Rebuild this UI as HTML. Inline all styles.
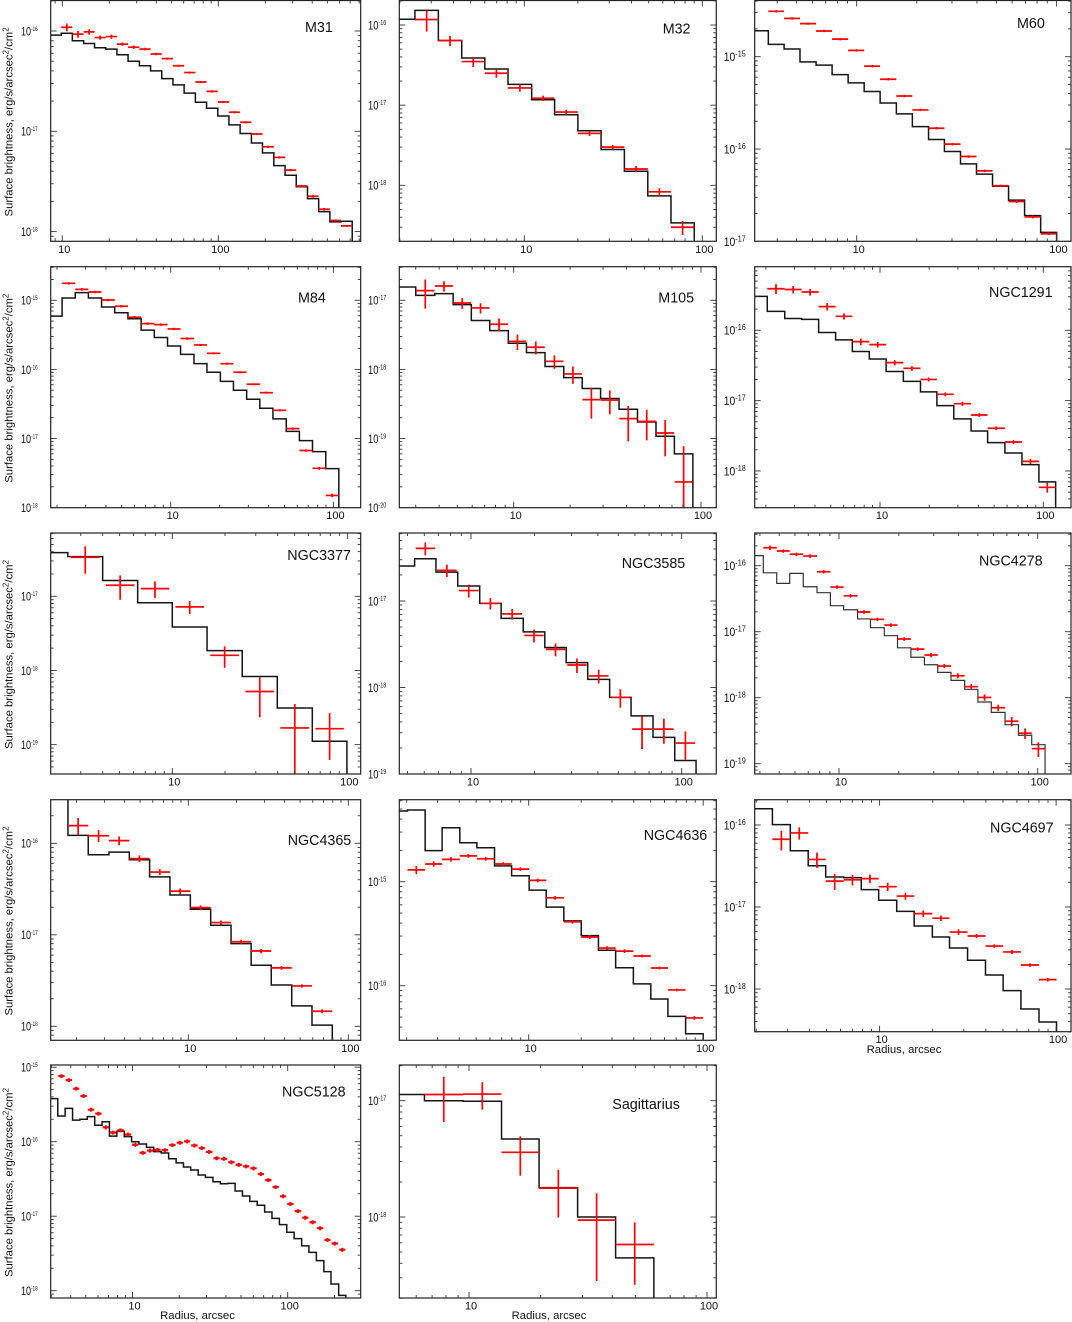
<!DOCTYPE html>
<html lang="en">
<head>
<meta charset="utf-8">
<title>Surface brightness profiles</title>
<style>
  html, body { margin: 0; padding: 0; background: #fff; }
  svg { display: block; font-family: "Liberation Sans", sans-serif; }
</style>
</head>
<body>
<svg id="figure" xmlns="http://www.w3.org/2000/svg" width="1072" height="1322" viewBox="0 0 1072 1322"></svg>
<script>
const xTickValues = [10, 100];

const m31Radius = [8.3,9.85,11.6,13.7,16.1,19.0,22.4,26.4,31.2,36.8,43.4,51.2,60.4,71.3,84.1,99.3,117,138,163,192,227,268,316,373,440,519,612,722];
const m31Model = [9.1e-17,9.5e-17,8.0e-17,7.5e-17,6.8e-17,6.6e-17,5.8e-17,5.0e-17,4.5e-17,4.0e-17,3.35e-17,2.9e-17,2.4e-17,1.95e-17,1.7e-17,1.42e-17,1.16e-17,9.5e-18,7.65e-18,6.1e-18,4.55e-18,3.65e-18,2.8e-18,2.13e-18,1.58e-18,1.25e-18,1.27e-18];
const m31Observed = [null,1.09e-16,9.3e-17,9.8e-17,8.6e-17,8.8e-17,7.4e-17,6.9e-17,6.6e-17,5.9e-17,5.3e-17,4.5e-17,3.85e-17,3.1e-17,2.5e-17,1.96e-17,1.55e-17,1.23e-17,9.4e-18,7.0e-18,5.5e-18,4.1e-18,2.85e-18,2.25e-18,1.67e-18,1.29e-18,1.14e-18];
const m31RelError = [null,.09,.076,.06,.046,.046,.038,.038,.03,.03,.025,.025,.025,.025,.025,.025,.025,.025,.025,.025,.025,.025,.025,.03,.03,.025,.025];
const m31YExps = [-16,-17,-18];

const m32Radius = [1.9,2.43,3.29,4.45,6.0,8.1,11.0,14.8,20.0,27.0,36.5,49.4,66.7,90.1];
const m32Model = [1.18e-16,1.52e-16,6.4e-17,3.87e-17,2.83e-17,1.82e-17,1.17e-17,7.6e-18,4.8e-18,2.8e-18,1.5e-18,7.4e-19,3.4e-19];
const m32Observed = [null,1.17e-16,6.4e-17,3.5e-17,2.5e-17,1.64e-17,1.22e-17,8.2e-18,4.45e-18,3.0e-18,1.6e-18,8.3e-19,3.0e-19];
const m32RelError = [null,.29,.145,.145,.12,.105,.08,.07,.07,.065,.085,.11,.2];
const m32YExps = [-16,-17,-18];

const m60Radius = [3.0,3.61,4.33,5.2,6.26,7.53,9.06,10.9,13.1,15.8,19.0,22.9,27.5,33.1,39.8,47.9,57.6,69.3,83.4,100.3];
const m60Model = [1.91e-15,1.36e-15,1.21e-15,8.8e-16,8.1e-16,6.4e-16,5.2e-16,4.2e-16,3.15e-16,2.4e-16,1.75e-16,1.27e-16,9.4e-17,6.9e-17,5.35e-17,3.95e-17,2.8e-17,1.9e-17,1.25e-17];
const m60Observed = [null,3.1e-15,2.6e-15,2.28e-15,1.9e-15,1.55e-15,1.17e-15,7.9e-16,5.7e-16,3.75e-16,2.65e-16,1.68e-16,1.13e-16,8.3e-17,5.8e-17,4.0e-17,2.7e-17,1.84e-17,1.21e-17];
const m60RelError = [null,.03,.03,.03,.03,.03,.03,.03,.03,.03,.03,.03,.03,.03,.03,.03,.035,.035,.035];
const m60YExps = [-15,-16,-17];

const m84Radius = [1.75,2.15,2.59,3.12,3.76,4.53,5.46,6.58,7.93,9.56,11.5,13.9,16.7,20.2,24.3,29.3,35.3,42.5,51.3,61.8,74.4,89.7,108];
const m84Model = [5.9e-16,1.08e-15,1.29e-15,1.08e-15,8.0e-16,6.6e-16,5.4e-16,3.7e-16,2.9e-16,2.18e-16,1.65e-16,1.21e-16,9.1e-17,6.7e-17,5.0e-17,3.7e-17,2.74e-17,1.92e-17,1.27e-17,9.3e-18,6.45e-18,3.67e-18];
const m84Observed = [null,1.76e-15,1.44e-15,1.32e-15,1.01e-15,8.2e-16,5.7e-16,4.6e-16,4.45e-16,3.85e-16,2.8e-16,2.26e-16,1.71e-16,1.21e-16,9.1e-17,6.1e-17,4.6e-17,2.56e-17,1.39e-17,6.7e-18,3.7e-18,1.5e-18];
const m84RelError = [null,.04,.04,.04,.04,.04,.04,.04,.04,.04,.04,.035,.035,.035,.035,.035,.035,.035,.04,.04,.045,.06];
const m84YExps = [-15,-16,-17,-18];

const m105Radius = [2.4,3.0,3.79,4.75,5.94,7.45,9.36,11.7,14.7,18.5,23.2,29.1,36.5,45.8,57.5,72.1,90.5];
const m105Model = [1.56e-17,1.18e-17,1.25e-17,8.65e-18,5.1e-18,3.64e-18,2.39e-18,1.75e-18,1.1e-18,7.6e-19,5.3e-19,3.8e-19,2.65e-19,1.73e-19,1.08e-19,6.0e-20];
const m105Observed = [null,1.38e-17,1.61e-17,9.15e-18,7.75e-18,4.5e-18,2.55e-18,2.09e-18,1.31e-18,8.6e-19,3.65e-19,3.6e-19,1.94e-19,1.77e-19,1.2e-19,2.35e-20];
const m105RelError = [null,.45,.17,.18,.17,.21,.25,.21,.22,.28,.47,.38,.53,.47,.54,2.28];
const m105YExps = [-17,-18,-19,-20];

const ngc1291Radius = [1.6,2.04,2.61,3.31,4.21,5.35,6.77,8.6,10.9,13.9,17.7,22.3,28.3,36.1,45.6,58.2,74,94,119];
const ngc1291Model = [3.04e-16,1.86e-16,1.47e-16,1.43e-16,9.3e-17,7.3e-17,5.0e-17,3.9e-17,2.6e-17,1.88e-17,1.33e-17,8.5e-18,5.5e-18,3.7e-18,2.53e-18,1.8e-18,1.23e-18,7.0e-19];
const ngc1291Observed = [null,3.9e-16,3.8e-16,3.5e-16,2.17e-16,1.58e-16,6.9e-17,6.25e-17,3.47e-17,2.88e-17,2.0e-17,1.23e-17,9.05e-18,6.25e-18,4.05e-18,2.58e-18,1.37e-18,5.85e-19];
const ngc1291RelError = [null,.16,.12,.11,.12,.1,.11,.09,.085,.075,.065,.065,.065,.06,.06,.065,.085,.16];
const ngc1291YExps = [-16,-17,-18];

const ngc3377Radius = [1.95,2.53,4.0,6.34,10.0,15.8,25.1,39.8,63.1,99.5];
const ngc3377Model = [3.88e-17,3.43e-17,1.63e-17,8.2e-18,3.86e-18,1.85e-18,8.3e-19,3.12e-19,1.11e-19];
const ngc3377Observed = [null,3.36e-17,1.41e-17,1.27e-17,7.2e-18,1.6e-18,5.2e-19,1.68e-19,1.64e-19];
const ngc3377RelError = [null,.4,.36,.25,.2,.32,.55,1.1,.62];
const ngc3377YExps = [-17,-18,-19];

const ngc3585Radius = [4.4,5.4,6.82,8.65,11.0,13.9,17.7,22.4,28.3,35.8,45.5,57.5,73.1,92.7,117];
const ngc3585Model = [2.54e-17,3.08e-17,2.16e-17,1.49e-17,9.4e-18,6.3e-18,4.4e-18,2.9e-18,1.94e-18,1.24e-18,7.7e-19,4.7e-19,2.65e-19,1.43e-19];
const ngc3585Observed = [null,4.06e-17,2.26e-17,1.32e-17,9.4e-18,7.1e-18,4.0e-18,2.76e-18,1.82e-18,1.36e-18,7.7e-19,3.3e-19,3.3e-19,2.28e-19];
const ngc3585RelError = [null,.17,.165,.17,.15,.14,.17,.17,.19,.18,.24,.41,.32,.36];
const ngc3585YExps = [-17,-18,-19];

const ngc4278Radius = [3.6,4.16,4.86,5.65,6.61,7.75,9.05,10.55,12.4,14.4,16.9,19.7,23.0,26.9,31.4,36.6,42.9,50,58.4,68.5,80,93.3,108.9];
const ngc4278Model = [1.42e-16,7.8e-17,5.4e-17,7.65e-17,4.8e-17,3.9e-17,2.48e-17,2.15e-17,1.56e-17,1.15e-17,8.7e-18,5.7e-18,4.1e-18,3.16e-18,2.42e-18,1.83e-18,1.34e-18,8.6e-19,6.0e-19,3.9e-19,2.7e-19,1.94e-19];
const ngc4278Observed = [null,1.87e-16,1.67e-16,1.49e-16,1.4e-16,8.1e-17,4.75e-17,3.5e-17,1.99e-17,1.54e-17,1.26e-17,7.75e-18,5.45e-18,4.43e-18,3.02e-18,2.15e-18,1.47e-18,1.01e-18,7.05e-19,4.4e-19,2.9e-19,1.69e-19];
const ngc4278RelError = [null,.08,.06,.06,.06,.06,.06,.06,.06,.06,.06,.06,.06,.075,.07,.09,.1,.11,.11,.16,.18,.25];
const ngc4278YExps = [-16,-17,-18,-19];

const ngc4365Radius = [1.3,1.77,2.37,3.19,4.28,5.73,7.68,10.3,13.8,18.5,24.7,33,44.3,59.3,79.4];
const ngc4365Model = [4.0e-16,1.22e-16,7.5e-17,8.0e-17,6.6e-17,4.3e-17,2.72e-17,1.9e-17,1.27e-17,8.0e-18,4.65e-18,2.83e-18,1.67e-18,1.03e-18];
const ngc4365Observed = [null,1.56e-16,1.21e-16,1.07e-16,6.8e-17,4.85e-17,3.0e-17,1.98e-17,1.36e-17,8.4e-18,6.65e-18,4.35e-18,2.76e-18,1.46e-18];
const ngc4365RelError = [null,.21,.15,.11,.085,.075,.07,.06,.055,.05,.055,.045,.04,.05];
const ngc4365YExps = [-16,-17,-18];

const ngc4636Radius = [1.75,2.02,2.55,3.19,4.03,5.05,6.37,7.98,10.06,12.6,15.9,20,25.1,31.5,39.8,50.1,62.8,79.3,100];
const ngc4636Model = [4.78e-15,4.89e-15,1.99e-15,3.3e-15,2.37e-15,2.12e-15,1.42e-15,1.14e-15,8.3e-16,5.7e-16,4.2e-16,3.03e-16,2.19e-16,1.49e-16,1.04e-16,7.45e-17,5.07e-17,3.45e-17];
const ngc4636Observed = [null,1.3e-15,1.48e-15,1.64e-15,1.77e-15,1.66e-15,1.48e-15,1.32e-15,1.03e-15,7.0e-16,4.12e-16,2.94e-16,2.3e-16,2.15e-16,1.93e-16,1.48e-16,9.1e-17,4.9e-17];
const ngc4636RelError = [null,.09,.06,.05,.04,.04,.04,.04,.04,.04,.04,.04,.04,.04,.03,.03,.03,.04];
const ngc4636YExps = [-15,-16];

const ngc4697Radius = [1.9,2.47,3.12,3.94,4.95,6.26,7.87,9.88,12.5,15.7,19.9,24.9,31.5,39.8,50.1,63.2,80,100.6];
const ngc4697Model = [1.58e-16,1.01e-16,4.86e-17,3.19e-17,2.32e-17,2.28e-17,1.63e-17,1.21e-17,8.85e-18,5.86e-18,4.3e-18,3.16e-18,2.24e-18,1.48e-18,9.55e-19,5.7e-19,3.96e-19];
const ngc4697Observed = [null,6.7e-17,8.0e-17,3.8e-17,2.07e-17,2.15e-17,2.22e-17,1.77e-17,1.36e-17,8.3e-18,7.3e-18,4.95e-18,4.43e-18,3.34e-18,2.83e-18,1.96e-18,1.3e-18];
const ngc4697RelError = [null,.27,.17,.21,.22,.15,.12,.115,.1,.095,.075,.08,.06,.05,.055,.05,.05];
const ngc4697YExps = [-16,-17,-18];

const ngc5128Radius = [2.9,3.30,3.68,4.11,4.58,5.11,5.71,6.37,7.10,7.93,8.85,9.87,11.0,12.3,13.7,15.3,17.1,19.1,21.3,23.7,26.5,29.5,33.0,36.8,41.0,45.8,51.1,57.0,63.6,71.0,79.2,88.4,98.6,110,123,137,153,171,190,213,237];
const ngc5128Model = [3.78e-16,2.21e-16,2.8e-16,1.95e-16,2.0e-16,2.17e-16,1.66e-16,1.85e-16,1.19e-16,1.38e-16,1.17e-16,1.0e-16,9.3e-17,8.4e-17,7.35e-17,7.05e-17,5.9e-17,5.2e-17,4.57e-17,4.17e-17,3.57e-17,3.32e-17,2.9e-17,2.73e-17,2.76e-17,2.18e-17,1.87e-17,1.58e-17,1.4e-17,1.14e-17,9.35e-18,7.7e-18,6.1e-18,5.0e-18,4.0e-18,3.27e-18,2.53e-18,1.8e-18,1.23e-18,8.65e-19];
const ngc5128Observed = [null,7.6e-16,6.7e-16,5.15e-16,4.1e-16,2.69e-16,2.38e-16,1.56e-16,1.33e-16,1.42e-16,1.25e-16,9.1e-17,7.1e-17,7.6e-17,7.8e-17,7.7e-17,9.0e-17,9.7e-17,1.01e-16,8.9e-17,8.2e-17,7.3e-17,6.0e-17,5.9e-17,5.3e-17,4.9e-17,4.67e-17,4.39e-17,3.68e-17,3.05e-17,2.46e-17,1.85e-17,1.46e-17,1.17e-17,9.55e-18,8.3e-18,6.9e-18,4.8e-18,4.3e-18,3.55e-18];
const ngc5128RelError = [null,.06,.06,.06,.06,.06,.06,.06,.06,.06,.06,.06,.06,.06,.06,.06,.06,.06,.06,.06,.06,.06,.06,.06,.06,.06,.06,.06,.06,.06,.06,.06,.06,.06,.06,.06,.06,.06,.06,.06];
const ngc5128YExps = [-15,-16,-17,-18];

const sagRadius = [4.9,6.5,9.44,13.7,19.7,28.6,41.3,59.8];
const sagModel = [1.13e-17,1.0e-17,9.9e-18,4.68e-18,1.79e-18,1.0e-18,4.45e-19];
const sagObserved = [null,1.13e-17,1.14e-17,3.6e-18,1.77e-18,9.4e-19,5.8e-19];
const sagRelError = [null,.42,.265,.37,.44,.7,.55];
const sagYExps = [-17,-18];

const SVG_NS = 'http://www.w3.org/2000/svg';
const COL1 = {l: 50.7, r: 360.7, labelGap: 13, labelScale: .76, labelFont: 12, supFont: 6};
const COL2 = {l: 399.3, r: 716.3, labelGap: 13, labelScale: .78, labelFont: 12, supFont: 7};
const COL3 = {l: 754.7, r: 1071, labelGap: 9, labelScale: .9, labelFont: 11.5, supFont: 8};

const panels = [
  {title:'M31', col:COL1, t:0.5, b:241.3, x10:62.3, xDec:156, yE:-16, yPx:31, yDec:100.3, radius:m31Radius, model:m31Model, obs:m31Observed, err:m31RelError, exps:m31YExps, tx:305, ty:32, yLabel:true},
  {title:'M32', col:COL2, t:0.5, b:241.3, x10:524.3, xDec:178, yE:-16, yPx:25, yDec:80.17, radius:m32Radius, model:m32Model, obs:m32Observed, err:m32RelError, exps:m32YExps, tx:662.7, ty:33.5},
  {title:'M60', col:COL3, t:0.5, b:241.3, x10:856.7, xDec:199.7, yE:-15, yPx:56.7, yDec:92.33, radius:m60Radius, model:m60Model, obs:m60Observed, err:m60RelError, exps:m60YExps, tx:1017, ty:28},
  {title:'M84', col:COL1, t:266.7, b:507.7, x10:170.7, xDec:162.7, yE:-15, yPx:300.3, yDec:69.1, radius:m84Radius, model:m84Model, obs:m84Observed, err:m84RelError, exps:m84YExps, tx:298, ty:302.7, yLabel:true},
  {title:'M105', col:COL2, t:266.7, b:507.7, x10:513.7, xDec:187.3, yE:-17, yPx:300.3, yDec:69.1, radius:m105Radius, model:m105Model, obs:m105Observed, err:m105RelError, exps:m105YExps, tx:658.3, ty:302.7, barFrac:.97},
  {title:'NGC1291', col:COL3, t:266.7, b:507.7, x10:880, xDec:163.3, yE:-16, yPx:330.3, yDec:70.33, radius:ngc1291Radius, model:ngc1291Model, obs:ngc1291Observed, err:ngc1291RelError, exps:ngc1291YExps, tx:989, ty:297},
  {title:'NGC3377', col:COL1, t:533, b:774, x10:172.3, xDec:175, yE:-17, yPx:596.3, yDec:74.17, radius:ngc3377Radius, model:ngc3377Model, obs:ngc3377Observed, err:ngc3377RelError, exps:ngc3377YExps, tx:287.3, ty:560, yLabel:true, barFrac:.82},
  {title:'NGC3585', col:COL2, t:533, b:774, x10:471, xDec:210.7, yE:-17, yPx:601, yDec:86.5, radius:ngc3585Radius, model:ngc3585Model, obs:ngc3585Observed, err:ngc3585RelError, exps:ngc3585YExps, tx:621.7, ty:568, barFrac:.9},
  {title:'NGC4278', col:COL3, t:533, b:774, x10:839, xDec:198.7, yE:-16, yPx:565.7, yDec:66, radius:ngc4278Radius, model:ngc4278Model, obs:ngc4278Observed, err:ngc4278RelError, exps:ngc4278YExps, tx:979, ty:565.7, thin:true},
  {title:'NGC4365', col:COL1, t:799.7, b:1040.3, x10:188.3, xDec:160, yE:-16, yPx:843.3, yDec:91.5, radius:ngc4365Radius, model:ngc4365Model, obs:ngc4365Observed, err:ngc4365RelError, exps:ngc4365YExps, tx:287.7, ty:845, yLabel:true},
  {title:'NGC4636', col:COL2, t:799.7, b:1040.3, x10:528.7, xDec:174.5, yE:-15, yPx:881.7, yDec:104, radius:ngc4636Radius, model:ngc4636Model, obs:ngc4636Observed, err:ngc4636RelError, exps:ngc4636YExps, tx:643.7, ty:840},
  {title:'NGC4697', col:COL3, t:799.7, b:1031.7, x10:879.6, xDec:176.5, yE:-16, yPx:825, yDec:82, radius:ngc4697Radius, model:ngc4697Model, obs:ngc4697Observed, err:ngc4697RelError, exps:ngc4697YExps, tx:990, ty:832.7, xLabel:{x:904, y:1053}},
  {title:'NGC5128', col:COL1, t:1065, b:1298, x10:132.5, xDec:155.2, yE:-16, yPx:1141.7, yDec:74.5, radius:ngc5128Radius, model:ngc5128Model, obs:ngc5128Observed, err:ngc5128RelError, exps:ngc5128YExps, tx:282, ty:1096.7, yLabel:true, xLabel:{x:197.5, y:1319}, barFrac:.85, markWidth:2.2},
  {title:'Sagittarius', col:COL2, t:1065, b:1298, x10:469, xDec:238, yE:-17, yPx:1100.7, yDec:116.3, radius:sagRadius, model:sagModel, obs:sagObserved, err:sagRelError, exps:sagYExps, tx:612.3, ty:1109, xLabel:{x:549, y:1319}}
];

function mk(tag, attrs, parent) {
  const el = document.createElementNS(SVG_NS, tag);
  for (const k in attrs) el.setAttribute(k, attrs[k]);
  if (parent) parent.appendChild(el);
  return el;
}

const root = document.getElementById('figure');

panels.forEach(function (p, idx) {
  const l = p.col.l, r = p.col.r, t = p.t, b = p.b;
  const xScale = function (v) { return p.x10 + (Math.log10(v) - 1) * p.xDec; };
  const yScale = function (v) { return p.yPx - (Math.log10(v) - p.yE) * p.yDec; };

  const g = mk('g', {}, root);
  
  

  const clip = mk('clipPath', {id: 'clip-' + idx}, g);
  mk('rect', {x: l, y: t, width: r - l, height: b - t}, clip);

  // Model histogram
  let d = 'M' + xScale(p.radius[0]).toFixed(2) + ' ' + yScale(p.model[0]).toFixed(2);
  p.model.forEach(function (v, i) {
    d += 'H' + xScale(p.radius[i + 1]).toFixed(2);
    if (i + 1 < p.model.length) d += 'V' + yScale(p.model[i + 1]).toFixed(2);
  });
  d += 'V' + (b + 5);
  const modelPath = mk('path', {
    d: d, fill: 'none',
    stroke: p.thin ? '#333' : '#151515',
    'stroke-width': p.thin ? 1.2 : 1.5,
    'clip-path': 'url(#clip-' + idx + ')'
  }, g);
  
  

  // Observed points with error bars
  const frac = p.barFrac || 1;
  p.obs.forEach(function (v, i) {
    if (v === null) return;
    const x0 = xScale(p.radius[i]), x1 = xScale(p.radius[i + 1]);
    const cx = (x0 + x1) / 2, half = (x1 - x0) / 2 * frac;
    const hi = v * (1 + p.err[i]), lo = v * (1 - p.err[i]);
    const yv = yScale(v);
    const yHi = yScale(hi);
    const yLo = lo > 0 ? yScale(lo) : b + 5;
    const pg = mk('g', {stroke: '#f00', 'stroke-width': p.markWidth || 1.7, 'clip-path': 'url(#clip-' + idx + ')'}, g);
    
    
    mk('line', {x1: cx - half, x2: cx + half, y1: yv, y2: yv}, pg);
    mk('line', {x1: cx, x2: cx, y1: yHi, y2: yLo}, pg);
  });

  // Frame
  const frame = mk('rect', {x: l, y: t, width: r - l, height: b - t, fill: 'none', stroke: '#222', 'stroke-width': 1.2}, g);
  
  

  // Ticks
  const ticks = mk('g', {stroke: '#333', 'stroke-width': 0.9}, g);
  
  
  const inX = function (x) { return x >= l - 0.5 && x <= r + 0.5; };
  const inY = function (y) { return y >= t - 0.5 && y <= b + 0.5; };
  for (let e = 0; e <= 3; e++) {
    for (let m = 1; m <= 9; m++) {
      const x = xScale(m * Math.pow(10, e));
      if (!inX(x)) continue;
      const len = m === 1 ? 6 : 3;
      mk('line', {x1: x, x2: x, y1: b, y2: b - len}, ticks);
      mk('line', {x1: x, x2: x, y1: t, y2: t + len}, ticks);
    }
  }
  for (let e = -22; e <= -13; e++) {
    for (let m = 1; m <= 9; m++) {
      const y = yScale(m * Math.pow(10, e));
      if (!inY(y)) continue;
      const len = m === 1 ? 6 : 3;
      mk('line', {x1: l, x2: l + len, y1: y, y2: y}, ticks);
      mk('line', {x1: r, x2: r - len, y1: y, y2: y}, ticks);
    }
  }

  // X tick labels
  xTickValues.forEach(function (v) {
    const lab = mk('text', {x: xScale(v) + 2, y: b + 11.5, 'text-anchor': 'middle', 'font-size': 11, fill: '#111'}, g);
    
    
    lab.textContent = String(v);
  });

  // Y tick labels
  p.exps.forEach(function (e) {
    const y = yScale(Math.pow(10, e));
    const ax = l - p.col.labelGap;
    const lab = mk('text', {x: 0, y: 0, 'text-anchor': 'end', 'font-size': p.col.labelFont, fill: '#111', transform: 'translate(' + ax + ' ' + (y + 4.4) + ') scale(' + p.col.labelScale + ' 1)'}, g);
    
    
    const base = mk('tspan', {}, lab);
    base.textContent = '10';
    const sup = mk('tspan', {dy: -4.5, 'font-size': p.col.supFont}, lab);
    sup.textContent = String(e);
  });

  // Title
  const title = mk('text', {x: p.tx, y: p.ty, 'font-size': 14.3, fill: '#111'}, g);
  
  
  title.textContent = p.title;

  // Y axis title
  if (p.yLabel) {
    const cy = (t + b) / 2 + 1;
    const yt = mk('text', {x: 0, y: 0, 'text-anchor': 'middle', 'font-size': 11.3, fill: '#111', transform: 'translate(12.3 ' + cy + ') rotate(-90)'}, g);
    
    
    const a = mk('tspan', {}, yt);
    a.textContent = 'Surface brightness, erg/s/arcsec';
    const s1 = mk('tspan', {dy: -4, 'font-size': 8}, yt);
    s1.textContent = '2';
    const c = mk('tspan', {dy: 4}, yt);
    c.textContent = '/cm';
    const s2 = mk('tspan', {dy: -4, 'font-size': 8}, yt);
    s2.textContent = '2';
  }

  // X axis title
  if (p.xLabel) {
    const xt = mk('text', {x: p.xLabel.x, y: p.xLabel.y, 'text-anchor': 'middle', 'font-size': 11.3, fill: '#111'}, g);
    
    
    xt.textContent = 'Radius, arcsec';
  }
});
</script>
</body>
</html>
